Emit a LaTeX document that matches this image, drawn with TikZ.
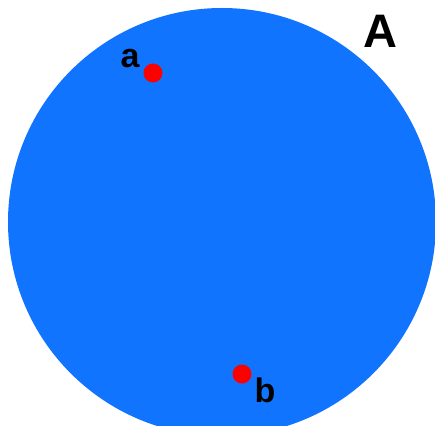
\documentclass[tikz,border=0pt]{standalone}
\usepackage{fontspec}
\setmainfont{Liberation Sans}
\definecolor{discblue}{RGB}{17,116,255}
\definecolor{dotred}{RGB}{255,0,0}
\begin{document}
\begin{tikzpicture}[x=1pt,y=1pt,
  dotstyle/.style={circle,fill=dotred,inner sep=0pt,minimum size=19pt},
  lbl/.style={font=\bfseries\fontsize{34}{38}\selectfont,inner sep=0pt}]
\useasboundingbox (0,0) rectangle (435,425);
\begin{scope}
\clip (0,0) rectangle (435,425);
\fill[discblue] (222,203) circle (214);
\end{scope}
\node[dotstyle] (pa) at (153,352) {};
\node[dotstyle] (pb) at (242,51) {};
\node[lbl] (la) at (130,366) {a};
\node[lbl] (lb) at (265,35) {b};
\node[font=\bfseries\fontsize{47}{50}\selectfont,inner sep=0pt] (lA) at (380,394) {A};
\end{tikzpicture}
\end{document}
